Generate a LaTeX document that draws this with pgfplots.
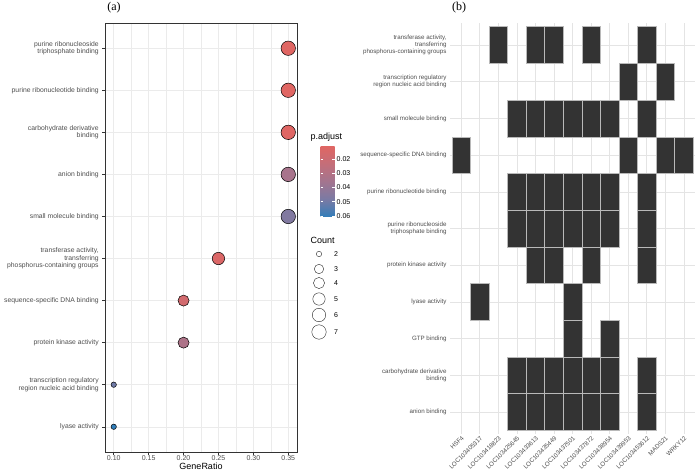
\documentclass[border=0pt]{standalone}
\usepackage{pgfplots}
\pgfplotsset{compat=1.18}
\usepackage{pgfplotstable}
\usepackage{fontspec}
\setmainfont{Liberation Sans}
\newfontfamily\seriffont{Liberation Serif}
\usetikzlibrary{calc}

\definecolor{gridgrey}{HTML}{EBEBEB}
\definecolor{gridgreyb}{HTML}{E4E4E4}
\definecolor{txtgrey}{HTML}{4D4D4D}
\definecolor{framegrey}{HTML}{333333}
\definecolor{tilefill}{HTML}{333333}

\pgfplotsset{/pgf/number format/assume math mode=true}

% GO enrichment: position on the y axis (bottom = 1), GeneRatio, Count, p.adjust
\pgfplotstableread{
pos ratio count padj
1  0.10 2 0.0607
2  0.10 2 0.0500
3  0.20 4 0.0320
4  0.20 4 0.0170
5  0.25 5 0.0130
6  0.35 7 0.0460
7  0.35 7 0.0340
8  0.35 7 0.0112
9  0.35 7 0.0108
10 0.35 7 0.0108
}\enrich

% size legend entries (legend box coordinates)
\pgfplotstableread{
x y count
319 -254 2
319 -269 3
319 -283 4
319 -299 5
319 -315 6
319 -332 7
}\sizekey

% gene (column 1..13) x GO term (row 1..11 from bottom) membership
\pgfplotstableread{
gene term
3 11
5 11
6 11
8 11
11 11
10 10
12 10
4 9
5 9
6 9
7 9
8 9
9 9
11 9
1 8
10 8
12 8
13 8
4 7
5 7
6 7
7 7
8 7
9 7
11 7
4 6
5 6
6 6
7 6
8 6
9 6
11 6
5 5
6 5
8 5
11 5
2 4
7 4
7 3
9 3
4 2
5 2
6 2
7 2
8 2
9 2
11 2
4 1
5 1
6 1
7 1
8 1
9 1
11 1
}\tiles

% one heatmap cell: 1 x 1 data unit of the right-hand axis
\pgfdeclareplotmark{tile}{%
  \pgfpathrectangle{\pgfqpoint{-9.28pt}{-18.35pt}}{\pgfqpoint{18.56pt}{36.70pt}}%
  \pgfusepathqfillstroke}

\begin{document}
\begin{tikzpicture}
\useasboundingbox (0pt,0pt) rectangle (696pt,474pt);

% ---------------- (a) dot plot ----------------
\begin{axis}[
  at={(105pt,22pt)}, anchor=south west,
  scale only axis, width=192pt, height=429pt,
  xmin=0.0875, xmax=0.3625, ymin=0.4, ymax=10.6,
  xtick={0.10,0.15,0.20,0.25,0.30,0.35},
  minor xtick={0.125,0.175,0.225,0.275,0.325},
  ytick={1,...,10},
  yticklabels={
    lyase activity,
    {transcription regulatory\\region nucleic acid binding},
    protein kinase activity,
    sequence-specific DNA binding,
    {transferase activity,\\transferring\\phosphorus-containing groups},
    small molecule binding,
    anion binding,
    {carbohydrate derivative\\binding},
    purine ribonucleotide binding,
    {purine ribonucleoside\\triphosphate binding}},
  grid=both,
  major grid style={gridgrey, line width=0.5pt},
  minor grid style={gridgrey, line width=0.3pt},
  tick pos=left, tick align=outside,
  major tick length=2.8pt, minor tick length=0pt,
  tick style={framegrey, line width=0.5pt},
  axis line style={framegrey, line width=0.6pt},
  xticklabel style={font=\fontsize{7}{8}\selectfont, text=txtgrey, inner sep=1pt,
    /pgf/number format/fixed, /pgf/number format/fixed zerofill,
    /pgf/number format/precision=2},
  yticklabel style={font=\fontsize{6.8}{7.7}\selectfont, text=txtgrey, align=right},
  xlabel={GeneRatio},
  xlabel style={font=\fontsize{9}{10}\selectfont, inner sep=1pt},
  colormap={padj}{rgb255=(224,102,99) rgb255=(196,110,121) rgb255=(163,117,143)
    rgb255=(122,122,164) rgb255=(50,126,186)},
  point meta min=0.0108, point meta max=0.0607,
  colorbar,
  colorbar style={
    at={($(parent axis.south east)+(15pt,306pt)$)}, anchor=north west,
    scale only axis, width=14pt, height=71pt,
    y dir=reverse,
    ytick={0.02,0.03,0.04,0.05,0.06},
    scaled y ticks=false,
    ytick pos=both, yticklabel pos=right,
    tick align=inside, major tick length=2.8pt,
    tick style={white, line width=0.6pt},
    axis line style={draw=none},
    yticklabel style={font=\fontsize{7}{8}\selectfont, inner sep=1pt, xshift=1pt,
      /pgf/number format/fixed, /pgf/number format/fixed zerofill,
      /pgf/number format/precision=2},
  },
  clip=false,
]
\addplot[scatter, only marks, mark=*,
  point meta=explicit,
  scatter/use mapped color={draw=black, fill=mapped color},
  visualization depends on={\thisrow{count} \as \cnt},
  scatter/@pre marker code/.append style={/tikz/mark size=0.9*(3+5*sqrt((\cnt-2)/5))},
  mark options={line width=0.5pt}]
  table[x=ratio, y=pos, meta=padj] {\enrich};
\end{axis}

% size key for Count
\begin{axis}[
  at={(300pt,134pt)}, anchor=south west,
  scale only axis, width=40pt, height=100pt,
  xmin=300, xmax=340, ymin=-340, ymax=-240,
  hide axis, clip=false,
]
\addplot[scatter, only marks, mark=o,
  point meta=explicit,
  scatter/use mapped color={draw=black!85},
  visualization depends on={\thisrow{count} \as \cnt},
  scatter/@pre marker code/.append style={/tikz/mark size=0.9*(3+5*sqrt((\cnt-2)/5))},
  mark options={line width=0.4pt}]
  table[x=x, y=y, meta=count] {\sizekey};
\addplot[only marks, mark=none, point meta=explicit,
  nodes near coords={\pgfmathprintnumber{\pgfplotspointmeta}},
  every node near coord/.append style={anchor=west, xshift=14pt, inner sep=1pt,
    font=\fontsize{7}{8}\selectfont, text=black}]
  table[x=x, y=y, meta=count] {\sizekey};
\end{axis}

\node[anchor=west, inner sep=0pt, font=\fontsize{9}{10}\selectfont] at (310.5pt,337pt) {p.adjust};
\node[anchor=west, inner sep=0pt, font=\fontsize{9}{10}\selectfont] at (310.5pt,234pt) {Count};

% ---------------- (b) gene / term heatmap ----------------
\begin{axis}[
  at={(450pt,40pt)}, anchor=south west,
  scale only axis, width=245pt, height=411pt,
  xmin=0.4, xmax=13.6, ymin=0.4, ymax=11.6,
  xtick={1,...,13}, ytick={1,...,11},
  xticklabels={HSF4, LOC103405317, LOC103418823, LOC103425645, LOC103433613,
    LOC103435449, LOC103437501, LOC103437872, LOC103438954, LOC103439953,
    LOC103453612, MADS21, WRKY12},
  yticklabels={
    anion binding,
    {carbohydrate derivative\\binding},
    GTP binding,
    lyase activity,
    protein kinase activity,
    {purine ribonucleoside\\triphosphate binding},
    purine ribonucleotide binding,
    sequence-specific DNA binding,
    small molecule binding,
    {transcription regulatory\\region nucleic acid binding},
    {transferase activity,\\transferring\\phosphorus-containing groups}},
  grid=major, major grid style={gridgreyb, line width=0.5pt},
  axis line style={draw=none}, major tick length=0pt,
  xticklabel style={rotate=45, anchor=north east, inner sep=1pt,
    font=\fontsize{6.2}{7.2}\selectfont, text=txtgrey},
  yticklabel style={align=right, font=\fontsize{6.2}{7.2}\selectfont, text=txtgrey},
  clip=false,
]
\addplot[only marks, mark=tile,
  mark options={fill=tilefill, draw=gray!55, line width=0.4pt}]
  table[x=gene, y=term] {\tiles};
\end{axis}

% panel tags
\node[font=\seriffont\fontsize{12}{13}\selectfont] at (114pt,466pt) {(a)};
\node[font=\seriffont\fontsize{12}{13}\selectfont] at (459pt,466pt) {(b)};
\end{tikzpicture}
\end{document}
